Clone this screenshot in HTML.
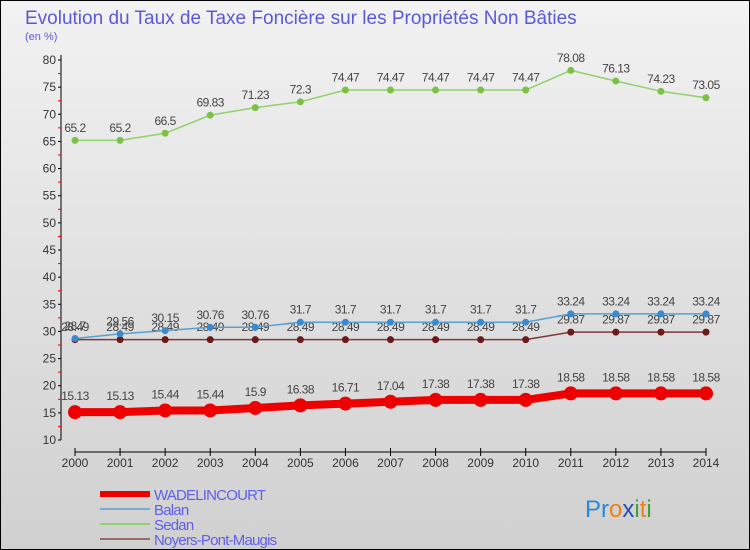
<!DOCTYPE html>
<html><head><meta charset="utf-8"><style>
body{margin:0;width:750px;height:550px;overflow:hidden;font-family:"Liberation Sans",sans-serif}
#wrap{position:absolute;left:0;top:0;width:748px;height:548px;border:1px solid #000;background:linear-gradient(#f2f2f2,#d0d0d0)}
</style></head><body>
<div id="wrap">
<svg id="chart" width="750" height="550" style="position:absolute;left:-1px;top:-1px"></svg>
</div>
<script>
const years=["2000","2001","2002","2003","2004","2005","2006","2007","2008","2009","2010","2011","2012","2013","2014"];
const wadelincourt=[15.13,15.13,15.44,15.44,15.9,16.38,16.71,17.04,17.38,17.38,17.38,18.58,18.58,18.58,18.58];
const balan=[28.7,29.56,30.15,30.76,30.76,31.7,31.7,31.7,31.7,31.7,31.7,33.24,33.24,33.24,33.24];
const sedan=[65.2,65.2,66.5,69.83,71.23,72.3,74.47,74.47,74.47,74.47,74.47,78.08,76.13,74.23,73.05];
const noyers=[28.49,28.49,28.49,28.49,28.49,28.49,28.49,28.49,28.49,28.49,28.49,29.87,29.87,29.87,29.87];
const yTicks=[10,15,20,25,30,35,40,45,50,55,60,65,70,75,80];
const NS="http://www.w3.org/2000/svg";
const svg=document.getElementById('chart');
const x=i=>75+i*(706-75)/14;
const y=v=>440-(v-10)*380/70;
function mk(t,a,p){const e=document.createElementNS(NS,t);for(const k in a)e.setAttribute(k,a[k]);(p||svg).appendChild(e);return e;}
function txt(s,a){const e=mk('text',a);e.textContent=s;return e;}
let t=txt('Evolution du Taux de Taxe Foncière sur les Propriétés Non Bâties',{x:25,y:24,'font-size':19,fill:'#5a5ad8'});

t=txt('(en %)',{x:25,y:40,'font-size':11,fill:'#5a5ad8'});

let ax=mk('line',{x1:61,y1:55,x2:61,y2:440,stroke:'#000'});

ax=mk('line',{x1:75,y1:452,x2:706,y2:452,stroke:'#000'});

yTicks.forEach(v=>{
 mk('line',{x1:58,y1:y(v),x2:61,y2:y(v),stroke:'#000'});
 if(v<80)mk('line',{x1:58,y1:y(v+2.5),x2:61,y2:y(v+2.5),stroke:'#e00'});
 const l=txt(String(v),{x:56,y:y(v)+4,'font-size':12,fill:'#333','text-anchor':'end'});
 
});
years.forEach((yr,i)=>{
 mk('line',{x1:x(i),y1:448,x2:x(i),y2:456,stroke:'#000'});
 const l=txt(yr,{x:x(i),y:467,'font-size':12,fill:'#333','text-anchor':'middle'});
 
});
function series(d,name,col,w,r,dot){
 const g=mk('g',{});
 
 mk('polyline',{points:d.map((v,i)=>x(i)+','+y(v)).join(' '),fill:'none',stroke:col,'stroke-width':w},g);
 d.forEach((v,i)=>{
  const c=mk('circle',{cx:x(i),cy:y(v),r:r,fill:dot},g);
  
  const l=txt(String(v),{x:x(i),y:y(v)-(r+5),'font-size':12,fill:'#444','text-anchor':'middle','letter-spacing':'-0.5'});
  
 });
}
series(sedan,'sedan','#8fd16a',1.5,3.5,'#7cc046');
series(noyers,'noyers','#7a3a3a',1.5,3.5,'#6b1a1a');
series(balan,'balan','#5a9fd0',1.5,3.5,'#3a8ad0');
series(wadelincourt,'wadelincourt','#ee0000',8,7,'#ee0000');
const leg=[['WADELINCOURT','#ee0000',6],['Balan','#7aaad0',2],['Sedan','#90d070',2],['Noyers-Pont-Maugis','#9a6a6a',2]];
leg.forEach((e,i)=>{
 const g=mk('g',{});
 
 const yy=494+i*15;
 mk('line',{x1:100,y1:yy,x2:150,y2:yy,stroke:e[1],'stroke-width':e[2]},g);
 const l=txt(e[0],{x:154,y:yy+6,'font-size':15,fill:'#6060e8','letter-spacing':'-0.8'});
 g.appendChild(l);
});
const logo=mk('text',{x:585,y:517,'font-size':24});

[['Pr','#2a8ad8'],['o','#f08010'],['x','#2050b0'],['i','#40a040'],['t','#f08010'],['i','#40a040']].forEach(p=>{const s=mk('tspan',{fill:p[1]},logo);s.textContent=p[0];});
</script>
</body></html>
